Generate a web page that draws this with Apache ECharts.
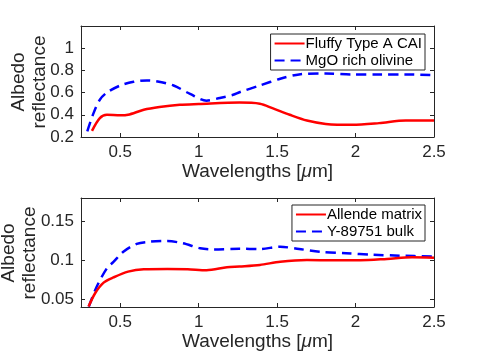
<!DOCTYPE html>
<html>
<head>
<meta charset="utf-8">
<script src="https://cdn.jsdelivr.net/npm/echarts@6/dist/echarts.min.js"></script>
<style>
  html, body { margin: 0; padding: 0; background: #fff; }
  #chart { width: 480px; height: 360px; }
</style>
</head>
<body>
<div id="chart"></div>
<script>
// data: [wavelength (um), albedo]
var fluffyCai = [[0.32,0.255],[0.37,0.37],[0.415,0.40],[0.50,0.395],[0.55,0.40],[0.65,0.445],
  [0.75,0.47],[0.88,0.49],[1.0,0.497],[1.26,0.51],[1.39,0.50],[1.47,0.46],[1.58,0.40],
  [1.69,0.348],[1.81,0.318],[1.98,0.31],[2.15,0.325],[2.32,0.348],[2.5,0.348]];
var mgoOlivine = [[0.29,0.25],[0.33,0.415],[0.37,0.536],[0.415,0.60],[0.50,0.664],[0.585,0.697],
  [0.67,0.71],[0.73,0.703],[0.84,0.664],[0.945,0.588],[1.05,0.527],[1.135,0.552],[1.22,0.58],
  [1.26,0.603],[1.39,0.664],[1.52,0.725],[1.64,0.764],[1.81,0.773],[1.98,0.764],[2.15,0.764],
  [2.32,0.764],[2.5,0.757]];
var allendeMatrix = [[0.298,0.0405],[0.34,0.0577],[0.394,0.0713],[0.457,0.078],[0.55,0.0854],
  [0.65,0.0885],[0.80,0.0889],[0.93,0.0885],[1.05,0.0872],[1.18,0.091],[1.26,0.092],[1.39,0.094],
  [1.52,0.0982],[1.69,0.1004],[1.86,0.100],[2.03,0.100],[2.2,0.1017],[2.36,0.1038],[2.5,0.1034]];
var y89751Bulk = [[0.30,0.0405],[0.35,0.066],[0.415,0.0897],[0.457,0.098],[0.52,0.111],
  [0.605,0.121],[0.69,0.1239],[0.80,0.1247],[0.90,0.1218],[1.01,0.1154],[1.09,0.114],
  [1.26,0.1148],[1.39,0.1145],[1.52,0.1174],[1.64,0.1145],[1.77,0.111],[1.94,0.109],
  [2.11,0.1072],[2.28,0.1059],[2.5,0.1047]];

var xTicks = [0.5, 1, 1.5, 2, 2.5];
var topYTicks = [0.2, 0.4, 0.6, 0.8, 1];
var botYTicks = [0.05, 0.1, 0.15];

var ink = '#262626';
var font = 'Liberation Sans, Arial, sans-serif';

var chart = echarts.init(document.getElementById('chart'));

function xAxisFor(grid, main) {
  return {
    type: 'value', gridIndex: grid, min: 0.25, max: 2.5,
    position: main ? 'bottom' : 'top',
    axisLine: { show: true, onZero: false, lineStyle: { color: ink, width: 1 } },
    axisTick: { show: true, inside: true, length: 4, lineStyle: { color: ink },
      customValues: xTicks },
    axisLabel: { show: main, color: ink, fontSize: 17, fontFamily: font, margin: 7,
      customValues: xTicks },
    splitLine: { show: false },
    name: main ? 'Wavelengths [{i|μ}m]' : '',
    nameLocation: 'middle', nameGap: 25,
    nameTextStyle: { color: ink, fontSize: 19, fontFamily: font,
      rich: { i: { fontStyle: 'italic', fontSize: 19, fontFamily: font, color: ink } } }
  };
}

function yAxisFor(grid, main, lo, hi, ticks) {
  return {
    type: 'value', gridIndex: grid, min: lo, max: hi,
    position: main ? 'left' : 'right',
    axisLine: { show: true, onZero: false, lineStyle: { color: ink, width: 1 } },
    axisTick: { show: true, inside: true, length: 4, lineStyle: { color: ink },
      customValues: ticks },
    axisLabel: { show: main, color: ink, fontSize: 17, fontFamily: font, margin: 7,
      customValues: ticks },
    splitLine: { show: false }
  };
}

function lineSeries(name, data, color, dashed, idx) {
  return {
    name: name, type: 'line', data: data, xAxisIndex: idx, yAxisIndex: idx,
    symbol: 'none', smooth: 0.3,
    lineStyle: { color: color, width: 2.5, type: dashed ? [10, 6] : 'solid' },
    itemStyle: { color: color }
  };
}

function yTitle(x, y) {
  return {
    type: 'text', x: x, y: y, rotation: Math.PI / 2,
    style: { text: 'Albedo\nreflectance', fill: ink, font: '19px ' + font,
      lineHeight: 21, align: 'center', verticalAlign: 'middle' }
  };
}

var legendBase = {
  orient: 'vertical', right: 55, borderColor: ink, borderWidth: 1,
  backgroundColor: '#fff', padding: [2, 3, 2, 3], itemGap: 2,
  itemWidth: 30, itemHeight: 15,
  itemStyle: { color: 'rgba(0,0,0,0)', borderWidth: 0, opacity: 0 },
  textStyle: { color: '#000', fontSize: 15, fontFamily: font, padding: [0, 0, 0, -4] }
};

var option = {
  backgroundColor: '#fff',
  animation: false,
  grid: [
    { left: 81, right: 46, top: 26, height: 111 },
    { left: 81, right: 46, top: 198, height: 109 }
  ],
  xAxis: [xAxisFor(0, true), xAxisFor(0, false), xAxisFor(1, true), xAxisFor(1, false)],
  yAxis: [
    yAxisFor(0, true, 0.2, 1.2, topYTicks), yAxisFor(0, false, 0.2, 1.2, topYTicks),
    yAxisFor(1, true, 0.04, 0.18, botYTicks), yAxisFor(1, false, 0.04, 0.18, botYTicks)
  ],
  legend: [
    Object.assign({}, legendBase, { top: 34, data: ['Fluffy Type A CAI', 'MgO rich olivine'] }),
    Object.assign({}, legendBase, { top: 205, data: ['Allende matrix', 'Y-89751 bulk'] })
  ],
  graphic: [yTitle(29, 82), yTitle(19, 253)],
  series: [
    lineSeries('MgO rich olivine', mgoOlivine, '#0000ff', true, 0),
    lineSeries('Fluffy Type A CAI', fluffyCai, '#ff0000', false, 0),
    lineSeries('Y-89751 bulk', y89751Bulk, '#0000ff', true, 2),
    lineSeries('Allende matrix', allendeMatrix, '#ff0000', false, 2)
  ]
};

chart.setOption(option);
</script>
</body>
</html>
